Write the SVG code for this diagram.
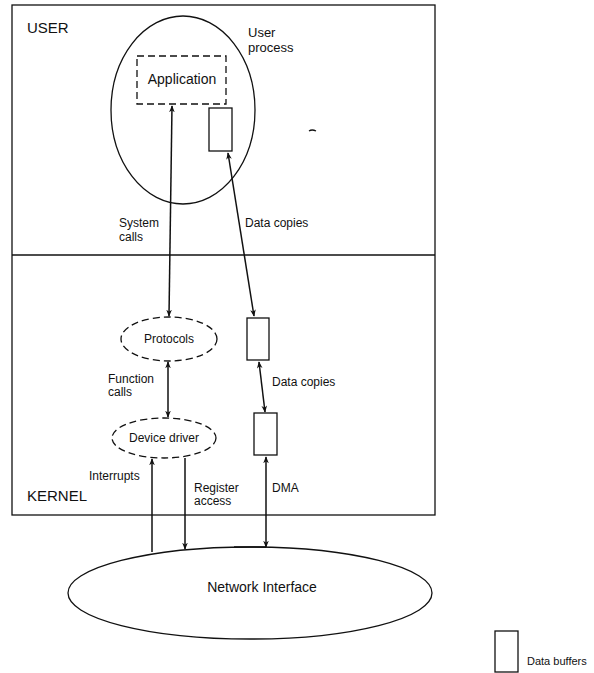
<svg xmlns="http://www.w3.org/2000/svg" width="594" height="673" viewBox="0 0 594 673">
<style>
  text { font-family: "Liberation Sans", Arial, sans-serif; fill: #111; }
  .region { font-size: 15px; }
  .node { font-size: 14px; }
  .proc { font-size: 13px; }
  .lbl { font-size: 12px; }
  .solid { fill: none; stroke: #111; stroke-width: 1.3; }
  .dash { fill: none; stroke: #111; stroke-width: 1.3; stroke-dasharray: 7 4; }
  .buf { fill: #fff; stroke: #111; stroke-width: 1.3; }
  .conn { fill: none; stroke: #111; stroke-width: 1.5; }
</style>
<defs>
  <marker id="ah" viewBox="0 0 10 10" refX="9" refY="5" markerWidth="7" markerHeight="7" orient="auto-start-reverse" markerUnits="userSpaceOnUse">
    <path d="M0,1 L10,5 L0,9 L3,5 Z" fill="#111"/>
  </marker>
</defs>
<rect width="594" height="673" fill="#fff"/>

<g id="frame">
  <rect x="12" y="5" width="423" height="510" class="solid"/>
  <line x1="12" y1="255" x2="435" y2="255" class="solid"/>
  <text x="27" y="33" class="region">USER</text>
  <text x="27" y="501" class="region">KERNEL</text>
</g>

<g id="user-process">
  <ellipse cx="183" cy="110" rx="72" ry="94" class="solid"/>
  <text x="248" y="37" class="proc">User</text>
  <text x="248" y="52" class="proc">process</text>
</g>

<g id="application">
  <rect x="137" y="56" width="89" height="48" class="dash"/>
  <text x="182" y="84" class="node" text-anchor="middle">Application</text>
</g>

<g id="user-buffer">
  <rect x="209" y="108" width="23" height="43" class="buf"/>
</g>

<g id="protocols">
  <ellipse cx="169" cy="339" rx="48" ry="22" class="dash"/>
  <text x="169" y="343" class="lbl" text-anchor="middle">Protocols</text>
</g>

<g id="device-driver">
  <ellipse cx="164" cy="438" rx="52" ry="20" class="dash"/>
  <text x="164" y="442" class="lbl" text-anchor="middle">Device driver</text>
</g>

<g id="kernel-buffer-1">
  <rect x="247" y="318" width="22" height="42" class="buf"/>
</g>

<g id="kernel-buffer-2">
  <rect x="254" y="413" width="23" height="42" class="buf"/>
</g>

<g id="network-interface">
  <ellipse cx="250" cy="593" rx="182" ry="46" class="solid"/>
  <text x="262" y="592" class="node" text-anchor="middle">Network Interface</text>
</g>

<g id="legend">
  <rect x="495" y="631" width="23" height="41" class="buf"/>
  <text x="527" y="665" class="lbl" style="font-size:11px">Data buffers</text>
</g>

<g id="connectors">
  <line x1="172" y1="106" x2="169" y2="316" class="conn" marker-start="url(#ah)" marker-end="url(#ah)"/>
  <line x1="228" y1="153" x2="254" y2="316" class="conn" marker-start="url(#ah)" marker-end="url(#ah)"/>
  <line x1="168" y1="362" x2="168" y2="417" class="conn" marker-start="url(#ah)" marker-end="url(#ah)"/>
  <line x1="259" y1="362" x2="265" y2="412" class="conn" marker-start="url(#ah)" marker-end="url(#ah)"/>
  <line x1="152" y1="552" x2="152" y2="459" class="conn" marker-end="url(#ah)"/>
  <line x1="185" y1="458" x2="185" y2="549" class="conn" marker-end="url(#ah)"/>
  <line x1="266" y1="457" x2="266" y2="547" class="conn" marker-start="url(#ah)" marker-end="url(#ah)"/>
  <line x1="234" y1="547" x2="266" y2="547" class="conn"/>
</g>

<g id="labels">
  <text x="119" y="227" class="lbl">System</text>
  <text x="119" y="241" class="lbl">calls</text>
  <text x="245" y="227" class="lbl">Data copies</text>
  <text x="108" y="383" class="lbl">Function</text>
  <text x="108" y="396" class="lbl">calls</text>
  <text x="272" y="386" class="lbl">Data copies</text>
  <text x="89" y="480" class="lbl">Interrupts</text>
  <text x="194" y="492" class="lbl">Register</text>
  <text x="194" y="505" class="lbl">access</text>
  <text x="272" y="492" class="lbl">DMA</text>
</g>
<path d="M309,131 Q312,129 316,131" class="solid" stroke-width="0.8"/>
</svg>
